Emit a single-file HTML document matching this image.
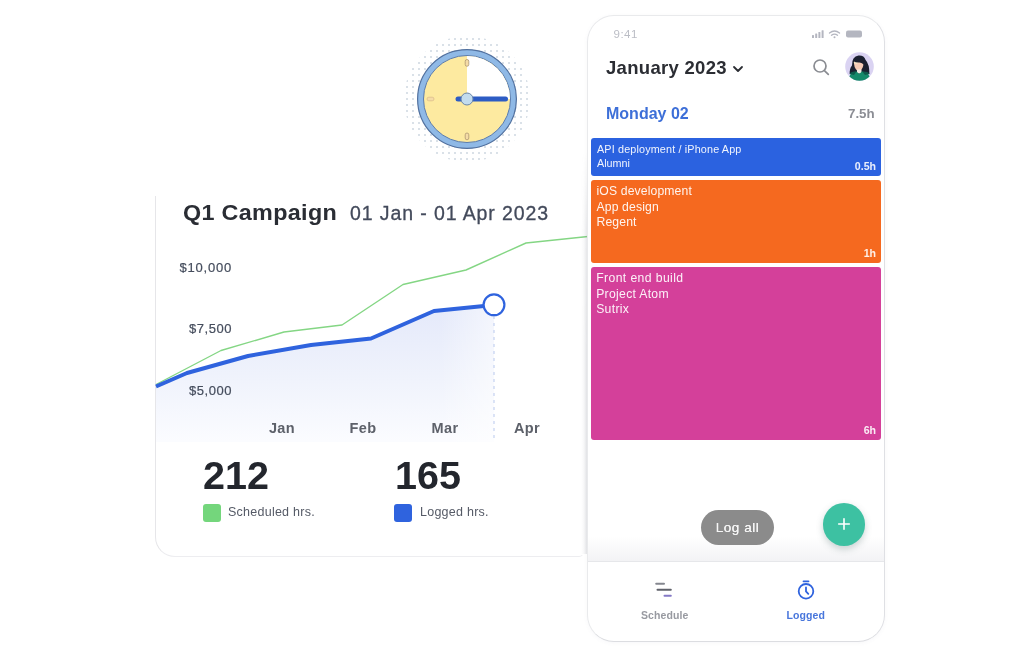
<!DOCTYPE html>
<html lang="en">
<head>
<meta charset="utf-8">
<title>Q1 Campaign – Logged time</title>
<style>
*{box-sizing:border-box;margin:0;padding:0}
html,body{width:1024px;height:660px;background:#fff;overflow:hidden}
#stage{position:absolute;left:0;top:0;width:1024px;height:660px;filter:blur(.4px)}
body{position:relative;font-family:"Liberation Sans",sans-serif;color:#2a2d34}
.abs{position:absolute;white-space:nowrap;line-height:1}

/* ---------- card ---------- */
#card{position:absolute;left:155px;top:196px;width:429px;height:361px;background:#fff;
  border:1px solid #ededf0;border-left-color:#e6e6e9;border-top:none;border-right-color:transparent;border-radius:0 0 5px 20px}
#pshade{position:absolute;left:581px;top:150px;width:6.5px;height:404px;
  background:linear-gradient(90deg,rgba(120,124,140,0),rgba(120,124,140,.05) 40%,rgba(120,124,140,.24));
  -webkit-mask-image:linear-gradient(180deg,transparent,rgba(0,0,0,.8) 80px,#000 200px);mask-image:linear-gradient(180deg,transparent,rgba(0,0,0,.8) 80px,#000 200px)}
#chart{position:absolute;left:0;top:0}
.ttl{left:183px;top:202px;font-size:22px;font-weight:700;color:#2a2d34;letter-spacing:.3px;transform:scaleX(1.062);transform-origin:0 50%}
.rng{left:350px;top:204px;font-size:19.5px;color:#434a5b;letter-spacing:.9px;-webkit-text-stroke:.3px #434a5b}
.yl{width:70px;left:162px;text-align:right;font-size:13px;color:#454d5d;letter-spacing:.55px;-webkit-text-stroke:.2px #454d5d}
.ml{width:60px;text-align:center;font-size:14.5px;font-weight:700;color:#5d616a;letter-spacing:.4px}
.big{font-size:39.5px;font-weight:700;color:#23262d;letter-spacing:0}
.sq{position:absolute;width:18px;height:18px;border-radius:3px}
.lg{font-size:12.5px;color:#555a66;letter-spacing:.25px}

/* ---------- phone ---------- */
#phone{position:absolute;left:587px;top:15px;width:298px;height:627.2px;background:#fff;
  border:1px solid #e9eaec;border-right-color:#dfe0e4;border-bottom-color:#dcdde1;border-radius:27px;box-shadow:0 1px 4px rgba(90,100,130,.05);overflow:hidden}
.ev{position:absolute;left:591px;width:290px;border-radius:3px;color:#fff;font-size:12.2px;letter-spacing:.4px}
.ev span{position:absolute;left:6px;white-space:nowrap;line-height:1;color:rgba(255,255,255,.93)}
.ev b{position:absolute;right:5px;bottom:4px;font-weight:700;font-size:10.6px;line-height:1;letter-spacing:0;color:rgba(255,255,255,.9)}
</style>
</head>
<body>
<div id="stage">

<!-- ===== analytics card ===== -->
<div id="card"></div>
<svg id="chart" width="1024" height="660" viewBox="0 0 1024 660">
  <defs>
    <linearGradient id="ar" gradientUnits="userSpaceOnUse" x1="0" y1="305" x2="0" y2="442">
      <stop offset="0" stop-color="#e4e9fa"/>
      <stop offset=".55" stop-color="#f0f3fc"/>
      <stop offset="1" stop-color="#fbfcff"/>
    </linearGradient>
    <linearGradient id="fd" gradientUnits="userSpaceOnUse" x1="440" y1="0" x2="494" y2="0">
      <stop offset="0" stop-color="#fff" stop-opacity="0"/>
      <stop offset="1" stop-color="#fff" stop-opacity=".55"/>
    </linearGradient>
  </defs>
  <path d="M156 386.5 L187 373 L248 356 L311 345 L371 338.5 L434 311 L494 305 L494 442 L156 442 Z" fill="url(#ar)"/>
  <rect x="440" y="300" width="54" height="142" fill="url(#fd)"/>
  <path d="M156 384.5 L221 350.5 L284 332 L342 325 L403 284.5 L466 270 L526 243 L588 236.5" fill="none" stroke="#84d684" stroke-width="1.4" stroke-linejoin="round"/>
  <path d="M156 386.5 L187 373 L248 356 L311 345 L371 338.5 L434 311 L494 305" fill="none" stroke="#2f63de" stroke-width="4" stroke-linejoin="round"/>
  <line x1="494" y1="316" x2="494" y2="438" stroke="#b9c9ee" stroke-width="1" stroke-dasharray="3 4"/>
  <circle cx="494" cy="304.8" r="10.4" fill="#fff" stroke="#2f63de" stroke-width="2.2"/>
</svg>
<div class="abs ttl">Q1 Campaign</div>
<div class="abs rng">01 Jan - 01 Apr 2023</div>
<div class="abs yl" style="top:261px;letter-spacing:.8px">$10,000</div>
<div class="abs yl" style="top:322px">$7,500</div>
<div class="abs yl" style="top:384px">$5,000</div>
<div class="abs ml" style="left:252px;top:421px">Jan</div>
<div class="abs ml" style="left:333px;top:421px">Feb</div>
<div class="abs ml" style="left:415px;top:421px">Mar</div>
<div class="abs ml" style="left:497px;top:421px">Apr</div>
<div class="abs big" style="left:203px;top:456px">212</div>
<div class="abs big" style="left:395px;top:456px">165</div>
<div class="sq" style="left:203px;top:504px;background:#74d67c"></div>
<div class="abs lg" style="left:228px;top:506px">Scheduled hrs.</div>
<div class="sq" style="left:394px;top:504px;background:#2f63de"></div>
<div class="abs lg" style="left:420px;top:506px">Logged hrs.</div>

<!-- ===== clock ===== -->
<svg class="abs" style="left:396.6px;top:29.3px" width="140" height="140" viewBox="-70 -70 140 140">
  <defs>
    <pattern id="dots" x="-69" y="-69" width="6" height="6" patternUnits="userSpaceOnUse">
      <circle cx="3" cy="3" r=".75" fill="#a3b4c6"/>
    </pattern>
  </defs>
  <circle r="63" fill="url(#dots)"/>
  <circle r="49.4" fill="#8fb9e6" stroke="#52719f" stroke-width="1.2"/>
  <circle r="43.5" fill="#fdeaa0" stroke="#5b7cae" stroke-width="1"/>
  <path d="M0 0 L0 -43 A43 43 0 0 1 43 0 Z" fill="#fff"/>
  <rect x="-1.8" y="-39.5" width="3.6" height="6.8" rx="1.8" fill="#f5dca6" stroke="#a58d6c" stroke-width=".7"/>
  <rect x="-1.8" y="34" width="3.6" height="6.8" rx="1.8" fill="#f5dca6" stroke="#a58d6c" stroke-width=".7"/>
  <rect x="-40" y="-1.8" width="7" height="3.6" rx="1.8" fill="#f5dca6" stroke="#d9b98a" stroke-width=".7"/>
  <line x1="-9" y1="0" x2="38.5" y2="0" stroke="#2d5cc4" stroke-width="5" stroke-linecap="round"/>
  <circle r="6" fill="#c3dcee" stroke="#6a86a8" stroke-width="1"/>
</svg>

<!-- ===== phone ===== -->
<div id="pshade"></div>
<div id="phone"></div>
<div class="abs" style="left:613.5px;top:28.5px;font-size:11.5px;color:#bbbdc5;letter-spacing:.5px">9:41</div>
<svg class="abs" style="left:810px;top:27px" width="56" height="14" viewBox="0 0 56 14">
  <g fill="#b4b6c0">
    <rect x="2" y="8" width="2" height="3" rx=".5"/><rect x="5.2" y="6.5" width="2" height="4.5" rx=".5"/>
    <rect x="8.4" y="5" width="2" height="6" rx=".5"/><rect x="11.6" y="3.2" width="2" height="7.8" rx=".5"/>
    <rect x="36" y="3.5" width="16" height="7" rx="2"/>
  </g>
  <g fill="none" stroke="#b4b6c0" stroke-width="1.4" stroke-linecap="round">
    <path d="M19.5 6 Q24.5 2 29.5 6"/><path d="M21.5 8.2 Q24.5 6 27.5 8.2"/>
  </g>
  <circle cx="24.5" cy="10.3" r="1" fill="#b4b6c0"/>
</svg>
<div class="abs" style="left:606px;top:59px;font-size:18.5px;font-weight:700;color:#2b2d33;letter-spacing:.3px">January 2023</div>
<svg class="abs" style="left:731px;top:63px" width="14" height="12" viewBox="0 0 14 12"><path d="M3 4 L7 8 L11 4" fill="none" stroke="#2b2d33" stroke-width="1.8" stroke-linecap="round" stroke-linejoin="round"/></svg>
<svg class="abs" style="left:810px;top:55.8px" width="22" height="22" viewBox="0 0 22 22"><circle cx="10" cy="10" r="6" fill="none" stroke="#8a8c92" stroke-width="1.7"/><path d="M14.4 14.6 L18.3 18.4" stroke="#8a8c92" stroke-width="1.7" stroke-linecap="round"/></svg>
<svg class="abs" style="left:845px;top:52.3px" width="29" height="29" viewBox="0 0 29 29">
  <defs><clipPath id="av"><circle cx="14.5" cy="14.5" r="14.3"/></clipPath></defs>
  <circle cx="14.5" cy="14.5" r="14.3" fill="#dad3f2"/>
  <g clip-path="url(#av)">
    <path d="M4.8 22 Q4.2 17 7 13.5 Q6.8 4.5 13.5 3.6 Q19 3.2 20.6 8 Q24.5 12 24.4 22 Z" fill="#1b2030"/>
    <path d="M9 9.5 Q12 7.5 16 9 L18.6 11.5 Q18 16.5 15.6 18.6 L12 18.6 Q8.6 15 9 9.5 Z" fill="#f6cbb6"/>
    <path d="M8.6 10.5 Q10 7.5 14 8 L12 12 Q10 12.5 8.6 10.5 Z" fill="#f5e3c4"/>
    <path d="M8 9 Q12 5 18 7 Q21 9.5 20.5 15 Q18.5 11 14.5 10.5 Q11 10.8 8 9 Z" fill="#1b2030"/>
    <path d="M12 17.5 H16.5 V21.5 H12 Z" fill="#f3eee6"/>
    <path d="M3 31 Q3.5 20 11.5 19.6 L14.2 22 L17 19.6 Q25.5 20 26 31 Z" fill="#168a6b"/>
    <path d="M4.5 22 Q6 19 11.5 19.6 L9 23 Z M24.5 22 Q23 19.3 17 19.6 L20 23 Z" fill="#0f5a4c"/>
  </g>
</svg>
<div class="abs" style="left:606px;top:105.8px;font-size:16px;font-weight:700;color:#3d6fd8;letter-spacing:0">Monday 02</div>
<div class="abs" style="left:848px;top:106.8px;font-size:13.3px;font-weight:700;color:#8b8d94">7.5h</div>

<div class="ev" style="top:138px;height:38px;background:#2b62e0;font-size:10.8px;letter-spacing:.15px"><span style="top:5.7px">API deployment / iPhone App</span><span style="top:20px;letter-spacing:0">Alumni</span><b style="bottom:4.5px">0.5h</b></div>
<div class="ev" style="top:180px;height:82.5px;background:#f5691f;letter-spacing:.13px"><span style="top:5px;left:5.5px">iOS development</span><span style="top:20.8px;left:5.5px">App design</span><span style="top:36px;left:5.5px">Regent</span><b>1h</b></div>
<div class="ev" style="top:266.5px;height:173.5px;background:#d4409a"><span style="top:5.8px;left:5.2px">Front end build</span><span style="top:21.5px;left:5.2px;letter-spacing:.3px">Project Atom</span><span style="top:36.4px;left:5.2px;letter-spacing:.3px">Sutrix</span><b>6h</b></div>

<div class="abs" style="left:588px;top:535.5px;width:296px;height:26.5px;background:linear-gradient(#fff,#f3f3f5);border-bottom:1px solid #e6e7ea"></div>
<div class="abs" style="left:701px;top:510px;width:73px;height:35px;border-radius:18px;background:#8b8b8b;color:#f6f6f6;font-size:13.5px;font-weight:400;text-align:center;line-height:35px;letter-spacing:.55px;text-shadow:0 0 .6px #f6f6f6">Log all</div>
<div class="abs" style="left:822.7px;top:503.2px;width:42.6px;height:42.6px;border-radius:50%;background:#3dc1a2;box-shadow:0 3px 7px rgba(80,110,110,.30)"></div>
<svg class="abs" style="left:836px;top:516px" width="16" height="16" viewBox="0 0 16 16"><path d="M8 2.7 V13.3 M2.7 8 H13.3" stroke="#fff" stroke-width="1.6" stroke-linecap="round"/></svg>

<svg class="abs" style="left:652px;top:579px" width="24" height="22" viewBox="0 0 24 22">
  <g stroke-linecap="round" stroke-width="2">
    <path d="M4.2 4.7 H12" stroke="#85878f"/><path d="M5.5 10.7 H18.8" stroke="#5f616a"/><path d="M12.5 16.7 H18.8" stroke="#8479c6"/>
  </g>
</svg>
<div class="abs" style="left:641px;top:610px;font-size:10.5px;font-weight:700;color:#989aa1;letter-spacing:.1px">Schedule</div>
<svg class="abs" style="left:794px;top:577px" width="24" height="26" viewBox="0 0 24 26">
  <g fill="none" stroke="#2f63de" stroke-width="1.8" stroke-linecap="round">
    <circle cx="12" cy="14.3" r="7.3"/><path d="M9.5 4.3 H14.5"/><path d="M12 10.5 V14.5 L14.3 16.8"/>
  </g>
</svg>
<div class="abs" style="left:786.5px;top:610px;font-size:10.5px;font-weight:700;color:#4876dc;letter-spacing:.1px">Logged</div>

</div>
</body>
</html>
